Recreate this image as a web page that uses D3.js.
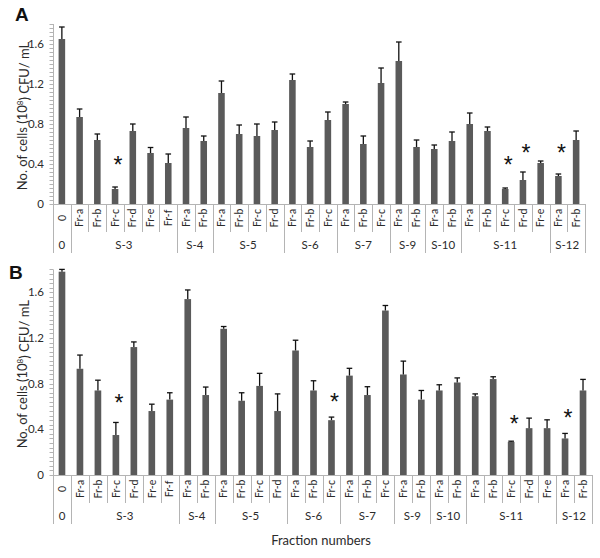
<!DOCTYPE html>
<html>
<head>
<meta charset="utf-8">
<script src="https://cdn.jsdelivr.net/npm/d3@7"></script>
<style>
  body { margin: 0; background: #fff; }
  text { font-family: Lato, 'Liberation Sans', sans-serif; }
</style>
</head>
<body>
<div id="chart"></div>
<script>
'use strict';

// ── Data ──
var fractions = ['0', 'Fr-a', 'Fr-b', 'Fr-c', 'Fr-d', 'Fr-e', 'Fr-f', 'Fr-a', 'Fr-b',
    'Fr-a', 'Fr-b', 'Fr-c', 'Fr-d', 'Fr-a', 'Fr-b', 'Fr-c', 'Fr-a', 'Fr-b', 'Fr-c',
    'Fr-a', 'Fr-b', 'Fr-a', 'Fr-b', 'Fr-a', 'Fr-b', 'Fr-c', 'Fr-d', 'Fr-e', 'Fr-a', 'Fr-b'];
var samples = ['0', 'S-3', 'S-3', 'S-3', 'S-3', 'S-3', 'S-3', 'S-4', 'S-4',
    'S-5', 'S-5', 'S-5', 'S-5', 'S-6', 'S-6', 'S-6', 'S-7', 'S-7', 'S-7',
    'S-9', 'S-9', 'S-10', 'S-10', 'S-11', 'S-11', 'S-11', 'S-11', 'S-11', 'S-12', 'S-12'];

var valuesA = [1.65, 0.87, 0.64, 0.15, 0.73, 0.51, 0.41, 0.76, 0.63,
    1.11, 0.70, 0.68, 0.74, 1.24, 0.57, 0.84, 1.00, 0.60, 1.21,
    1.43, 0.57, 0.55, 0.63, 0.80, 0.73, 0.15, 0.24, 0.41, 0.28, 0.64];
var errorsA = [0.12, 0.08, 0.06, 0.02, 0.07, 0.055, 0.09, 0.11, 0.05,
    0.12, 0.09, 0.12, 0.08, 0.06, 0.06, 0.08, 0.02, 0.08, 0.15,
    0.19, 0.07, 0.04, 0.09, 0.11, 0.04, 0.01, 0.08, 0.02, 0.02, 0.09];
var starsA = [3, 25, 26, 28];
var starLevelsA = [0.44, 0.44, 0.56, 0.56];

var valuesB = [1.78, 0.93, 0.74, 0.35, 1.12, 0.56, 0.66, 1.54, 0.70,
    1.28, 0.65, 0.78, 0.56, 1.09, 0.74, 0.48, 0.87, 0.70, 1.44,
    0.88, 0.66, 0.74, 0.81, 0.69, 0.84, 0.29, 0.41, 0.41, 0.32, 0.74];
var errorsB = [0.02, 0.12, 0.09, 0.11, 0.045, 0.06, 0.06, 0.08, 0.07,
    0.02, 0.07, 0.11, 0.15, 0.09, 0.085, 0.027, 0.064, 0.073, 0.044,
    0.117, 0.08, 0.05, 0.04, 0.02, 0.02, 0.006, 0.088, 0.073, 0.044, 0.097];
var starsB = [3, 15, 25, 28];
var starLevelsB = [0.67, 0.68, 0.49, 0.545];

var yTicks = [0, 0.4, 0.8, 1.2, 1.6];
var yMax = 1.8;

// ── Setup ──
var W = 600, H = 558;
var barColor = '#5a5a5a';
var axisColor = '#b4b4b4';
var textColor = '#2b2b2b';

var svg = d3.select('#chart').append('svg')
    .attr('width', W).attr('height', H)
    .style('background', '#fff');

var panels = [
    {name: 'A', values: valuesA, errors: errorsA, stars: starsA, starLevels: starLevelsA,
     left: 53, right: 585, top: 24, zero: 204, labelX: 15, labelY: 21},
    {name: 'B', values: valuesB, errors: errorsB, stars: starsB, starLevels: starLevelsB,
     left: 53, right: 592, top: 269.4, zero: 475, labelX: 9, labelY: 279}
];

function drawPanel(p) {
    var g = svg.append('g').attr('class', 'panel-' + p.name);
    var idx = d3.range(fractions.length);

    var x = d3.scaleBand().domain(idx).range([p.left, p.right]).padding(0);
    var y = d3.scaleLinear().domain([0, yMax]).range([p.zero, p.top]);
    var bw = x.bandwidth() * 0.37;

    // y axis with minor ticks
    var minor = d3.range(0, yMax + 1e-9, 0.04);
    g.selectAll('.minor').data(minor).enter().append('line')
        .attr('x1', p.left - 3.5).attr('x2', p.left)
        .attr('y1', function(d) { return Math.round(y(d)) + 0.5; })
        .attr('y2', function(d) { return Math.round(y(d)) + 0.5; })
        .style('stroke', axisColor).style('stroke-width', 1);
    g.append('line')
        .attr('x1', p.left + 0.5).attr('x2', p.left + 0.5)
        .attr('y1', y(yMax)).attr('y2', y(0))
        .style('stroke', axisColor);
    g.selectAll('.ytick').data(yTicks).enter().append('text')
        .attr('x', p.left - 9).attr('y', function(d) { return y(d); })
        .attr('dy', '0.35em').attr('text-anchor', 'end')
        .style('font-size', '11.5px').style('fill', textColor)
        .text(function(d) { return d === 0 ? '0' : d3.format('.1f')(d); });

    // bars
    g.selectAll('.bar').data(idx).enter().append('rect')
        .attr('x', function(i) { return x(i) + x.bandwidth() / 2 - bw / 2; })
        .attr('width', bw)
        .attr('y', function(i) { return y(p.values[i]); })
        .attr('height', function(i) { return y(0) - y(p.values[i]); })
        .style('fill', barColor);

    // error bars (upper only)
    var err = g.selectAll('.err').data(idx).enter().append('g')
        .style('stroke', '#111').style('stroke-width', 1.3);
    err.append('line')
        .attr('x1', function(i) { return x(i) + x.bandwidth() / 2; })
        .attr('x2', function(i) { return x(i) + x.bandwidth() / 2; })
        .attr('y1', function(i) { return y(p.values[i]); })
        .attr('y2', function(i) { return y(p.values[i] + p.errors[i]); });
    err.append('line')
        .attr('x1', function(i) { return x(i) + x.bandwidth() / 2 - 2.8; })
        .attr('x2', function(i) { return x(i) + x.bandwidth() / 2 + 2.8; })
        .attr('y1', function(i) { return y(p.values[i] + p.errors[i]); })
        .attr('y2', function(i) { return y(p.values[i] + p.errors[i]); });

    // category axis
    g.append('line')
        .attr('x1', p.left).attr('x2', p.right)
        .attr('y1', y(0) + 0.5).attr('y2', y(0) + 0.5)
        .style('stroke', axisColor);

    var bounds = d3.range(fractions.length + 1);
    g.selectAll('.sep').data(bounds).enter().append('line')
        .attr('x1', function(b) { return Math.round(b < fractions.length ? x(b) : p.right) + 0.5; })
        .attr('x2', function(b) { return Math.round(b < fractions.length ? x(b) : p.right) + 0.5; })
        .attr('y1', y(0))
        .attr('y2', function(b) {
            var isGroup = b === 0 || b === fractions.length || samples[b] !== samples[b - 1];
            return y(0) + (isGroup ? 49 : 28);
        })
        .style('stroke', axisColor);

    g.selectAll('.frac').data(idx).enter().append('text')
        .attr('transform', function(i) {
            return 'translate(' + (x(i) + x.bandwidth() / 2) + ',' + (y(0) + 14) + ') rotate(-90)';
        })
        .attr('dy', '0.35em').attr('text-anchor', 'middle')
        .style('font-size', '10.5px').style('fill', textColor)
        .text(function(i) { return fractions[i]; });

    var groups = [];
    samples.forEach(function(s, i) {
        if (i === 0 || s !== samples[i - 1]) groups.push({name: s, start: i, end: i});
        else groups[groups.length - 1].end = i;
    });
    g.selectAll('.grp').data(groups).enter().append('text')
        .attr('x', function(d) { return (x(d.start) + x(d.end) + x.bandwidth()) / 2; })
        .attr('y', y(0) + 41).attr('dy', '0.35em').attr('text-anchor', 'middle')
        .style('font-size', '11.5px').style('fill', textColor)
        .text(function(d) { return d.name; });

    // significance marks
    g.selectAll('.star').data(p.stars).enter().append('text')
        .attr('x', function(i) { return x(i) + x.bandwidth() / 2 + 3; })
        .attr('y', function(i, k) { return y(p.starLevels[k]) + 13; })
        .attr('text-anchor', 'middle')
        .style('font-size', '23px').style('fill', '#111')
        .style('font-family', "'Liberation Sans', Arial, sans-serif")
        .text('*');

    // y title
    var ty = (p.zero + p.top) / 2 + 2;
    var t = g.append('text')
        .attr('transform', 'translate(22,' + ty + ') rotate(-90)')
        .attr('text-anchor', 'middle').attr('dy', '0.35em')
        .style('font-size', '13px').style('fill', textColor);
    t.append('tspan').text('No. of cells (10');
    t.append('tspan').attr('dy', '-0.4em').style('font-size', '8px').text('8');
    t.append('tspan').attr('dy', '0.4em').text(') CFU/ mL');

    // panel label
    g.append('text')
        .attr('x', p.labelX).attr('y', p.labelY)
        .style('font-family', "'Liberation Sans', Arial, sans-serif")
        .style('font-size', '19px').style('font-weight', 'bold').style('fill', '#111')
        .text(p.name);
}

panels.forEach(drawPanel);

svg.append('text')
    .attr('x', 321).attr('y', 545)
    .attr('text-anchor', 'middle')
    .style('font-size', '13px').style('fill', textColor)
    .text('Fraction numbers');
</script>
</body>
</html>
